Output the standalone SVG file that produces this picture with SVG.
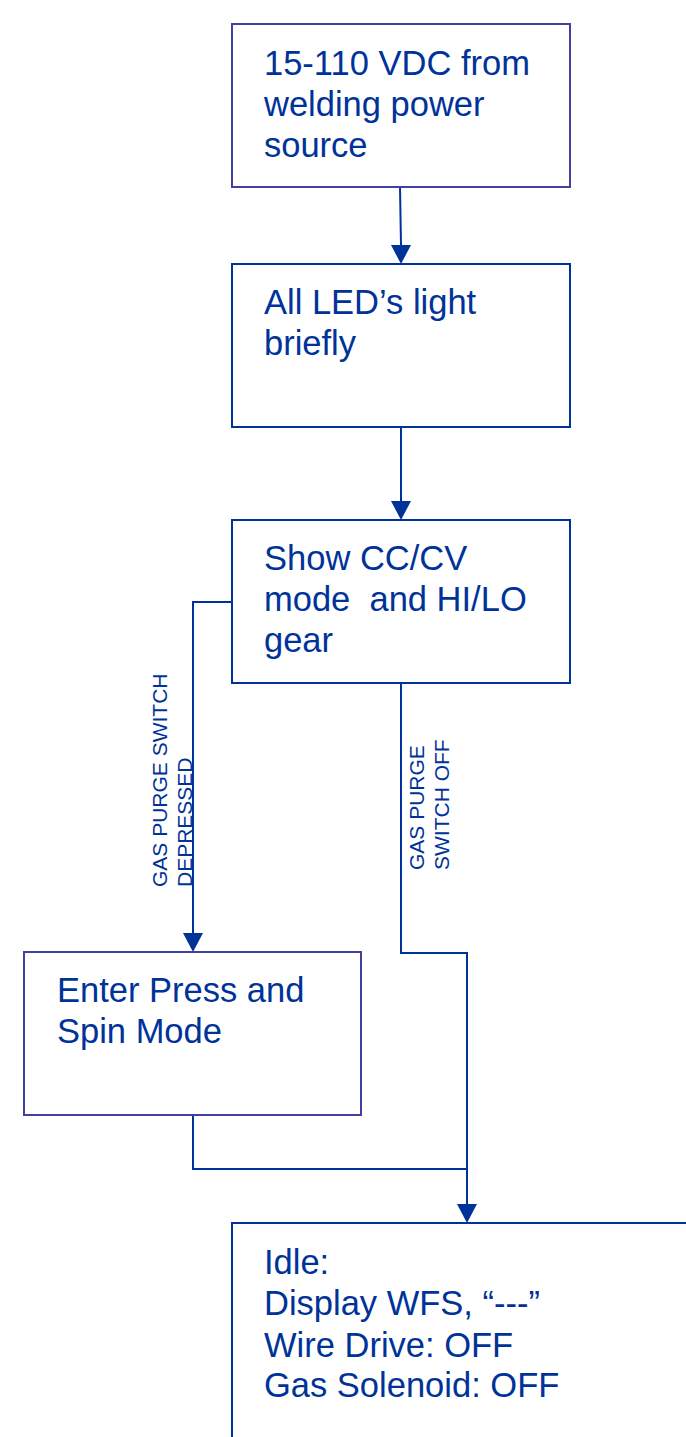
<svg xmlns="http://www.w3.org/2000/svg" width="686" height="1437" viewBox="0 0 686 1437">
<style>
.box{fill:#fff;stroke:#003399;stroke-width:2}
.boxp{fill:#fff;stroke:#4040a0;stroke-width:2}
.t{font-family:"Liberation Sans",Arial,sans-serif;font-size:34.5px;fill:#003399}
.lbl{font-family:"Liberation Sans",Arial,sans-serif;font-size:21px;fill:#003399}
.c{fill:none;stroke:#003399;stroke-width:2}
</style>
<rect width="686" height="1437" fill="#fff"/>
<g id="connectors">
<path class="c" d="M400,187 L401,245"/>
<path d="M391,245 L411,245 L401,264 Z" fill="#003399"/>
<path class="c" d="M401,427 L401,501"/>
<path d="M391,501 L411,501 L401,520 Z" fill="#003399"/>
<path class="c" d="M232,602 L193,602 L193,933"/>
<path d="M183,933 L203,933 L193,952 Z" fill="#003399"/>
<path class="c" d="M401,683 L401,953 L467,953 L467,1204"/>
<path d="M457,1204 L477,1204 L467,1223 Z" fill="#003399"/>
<path class="c" d="M193,1115 L193,1169 L467,1169"/>
<text class="lbl" transform="translate(167,887) rotate(-90)">GAS PURGE SWITCH</text>
<text class="lbl" transform="translate(192,887) rotate(-90)">DEPRESSED</text>
<text class="lbl" transform="translate(424,870) rotate(-90)">GAS PURGE</text>
<text class="lbl" transform="translate(449,870) rotate(-90)">SWITCH OFF</text>
</g>
<g id="n1">
<rect class="boxp" x="232" y="24" width="338" height="163"/>
<text class="t" x="264" y="75">15-110 VDC from</text>
<text class="t" x="264" y="116">welding power</text>
<text class="t" x="264" y="157">source</text>
</g>
<g id="n2">
<rect class="box" x="232" y="264" width="338" height="163"/>
<text class="t" x="264" y="314">All LED’s light</text>
<text class="t" x="264" y="355">briefly</text>
</g>
<g id="n3">
<rect class="box" x="232" y="520" width="338" height="163"/>
<text class="t" x="264" y="570">Show CC/CV</text>
<text class="t" x="264" y="611" xml:space="preserve">mode  and HI/LO</text>
<text class="t" x="264" y="652">gear</text>
</g>
<g id="n4">
<rect class="boxp" x="24" y="952" width="337" height="163"/>
<text class="t" x="57" y="1002">Enter Press and</text>
<text class="t" x="57" y="1043">Spin Mode</text>
</g>
<g id="n5">
<rect class="box" x="232" y="1223" width="480" height="240"/>
<text class="t" x="264" y="1274">Idle:</text>
<text class="t" x="264" y="1315">Display WFS, “---”</text>
<text class="t" x="264" y="1357">Wire Drive: OFF</text>
<text class="t" x="264" y="1397">Gas Solenoid: OFF</text>
</g>
</svg>
